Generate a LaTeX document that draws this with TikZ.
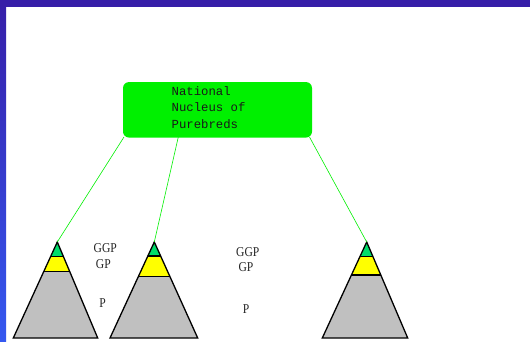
\documentclass[tikz,border=0pt]{standalone}
\usepackage{fontspec}
\setmainfont{Liberation Serif}
\newfontfamily\monof{Liberation Mono}
\newfontfamily\lblfont[FakeStretch=0.86]{Liberation Serif}
\definecolor{topblue}{HTML}{361EA8}
\definecolor{botblue}{HTML}{3458F0}
\definecolor{boxgreen}{HTML}{00F000}
\definecolor{tipgreen}{HTML}{00DD6A}
\definecolor{tyellow}{HTML}{FFFF00}
\definecolor{tgray}{HTML}{C0C0C0}
\tikzset{
  nucbox/.style={fill=boxgreen, rounded corners=6pt, minimum width=189pt, minimum height=55.5pt, inner sep=0pt},
  nuctext/.style={anchor=west, align=left, inner sep=0pt, text=black!90, font=\monof\fontsize{12.3}{16.5}\selectfont},
  link/.style={draw=boxgreen, line width=0.6pt},
  outline/.style={draw=black, line width=1.3pt, line join=miter},
  band/.style={draw=black, line width=1.4pt},
  lbl/.style={inner sep=0pt, font=\lblfont\fontsize{13.5}{15}\selectfont, text=black!85}
}
\newcommand\pyramid[6]{%
  \coordinate (#1) at (#2,242);
  \begin{scope}
    \clip (#2,242) -- (#3,338) -- (#4,338) -- cycle;
    \fill[tgray] (#3,240) rectangle (#4,339);
    \fill[tyellow] (#3,240) rectangle (#4,#6);
    \fill[tipgreen] (#3,240) rectangle (#4,#5);
    \draw[band] (#3,#5) -- (#4,#5);
    \draw[band] (#3,#6) -- (#4,#6);
  \end{scope}
  \draw[outline] (#2,242) -- (#3,338) -- (#4,338) -- cycle;
}
\begin{document}
\begin{tikzpicture}[x=1pt,y=-1pt]
\useasboundingbox (0,0) rectangle (530,341);
\fill[white] (0,0) rectangle (530,341);
\shade[top color=topblue, bottom color=botblue] (0,0) rectangle (6,341);
\fill[topblue] (0,0) rectangle (530,7);

\coordinate (s1) at (124,137);
\coordinate (s2) at (178.3,137);
\coordinate (s3) at (309.5,137);

\pyramid{a1}{57.3}{13.3}{97.7}{256.7}{271.3}
\pyramid{a2}{154.3}{110}{197.7}{256}{276.7}
\pyramid{a3}{366.7}{322.3}{407.7}{256.7}{275}

\draw[link] (s1) -- (a1);
\draw[link] (s2) -- (a2);
\draw[link] (s3) -- (a3);

\node[nucbox] (nuc) at (217.5,109.8) {};
\node[nuctext] (nuctxt) at (171.5,107.5) {National\\Nucleus of\\Purebreds};

\node[lbl] (ggp1) at (105.3,248.3) {GGP};
\node[lbl] (gp1) at (103.3,264.2) {GP};
\node[lbl] (p1) at (102.7,302.7) {P};
\node[lbl] (ggp2) at (247.8,251.8) {GGP};
\node[lbl] (gp2) at (246,267.2) {GP};
\node[lbl] (p2) at (246.2,308.7) {P};
\end{tikzpicture}
\end{document}
